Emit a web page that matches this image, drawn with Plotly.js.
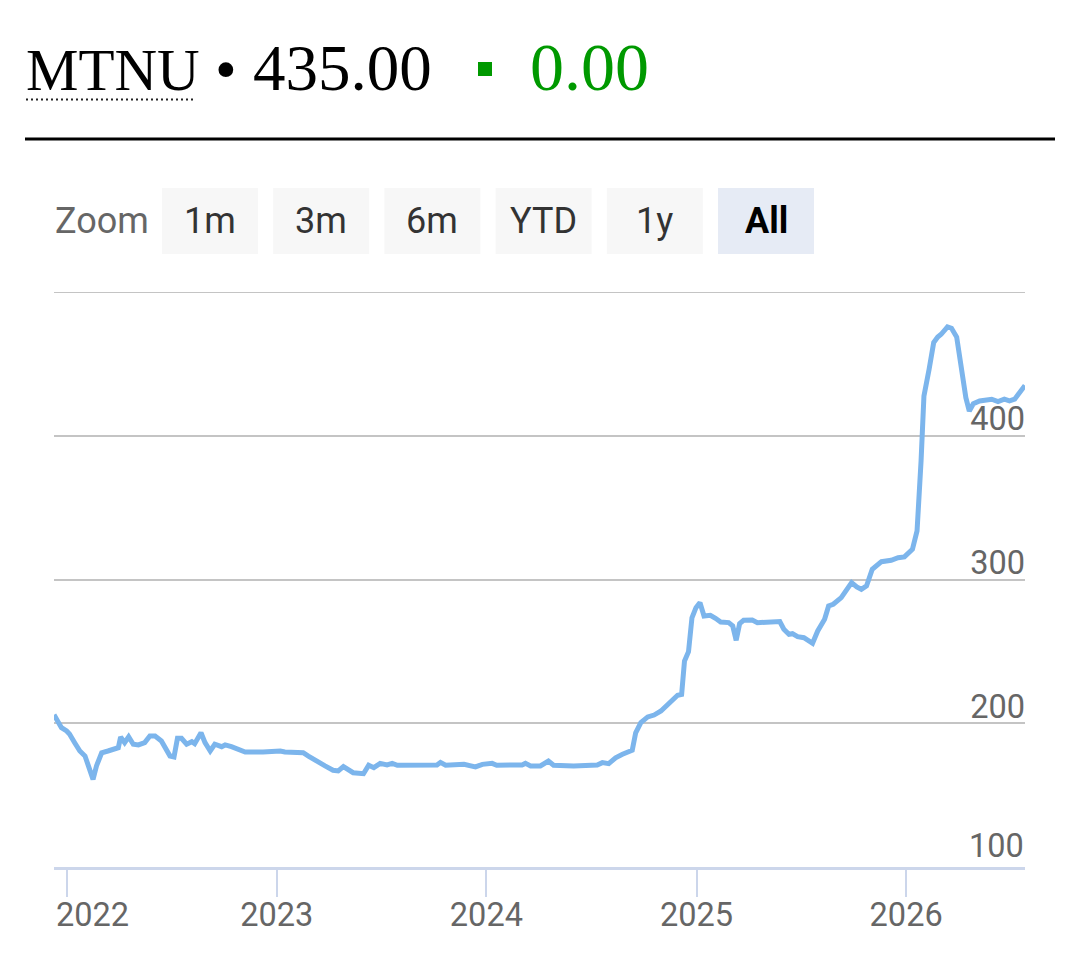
<!DOCTYPE html>
<html>
<head>
<meta charset="utf-8">
<script src="https://cdn.plot.ly/plotly-3.0.1.min.js"></script>
<style>
  html, body { margin: 0; padding: 0; background: #fff; }
  #chart { width: 1080px; height: 961px; }
</style>
</head>
<body>
<div id="chart"></div>
<script>
// ---- data ----
const ticker = 'MTNU';
const lastPrice = '435.00';
const priceChange = '0.00';
const zoomButtons = ['1m', '3m', '6m', 'YTD', '1y', 'All'];
const selectedButton = 'All';

const dates = [
  '2021-12-09','2021-12-22','2021-12-31','2022-01-05','2022-01-14','2022-01-23','2022-02-01','2022-02-08',
  '2022-02-15','2022-02-21','2022-03-02','2022-03-13','2022-03-22','2022-03-31','2022-04-04','2022-04-11',
  '2022-04-18','2022-04-26','2022-05-05','2022-05-16','2022-05-25','2022-06-03','2022-06-14','2022-06-23',
  '2022-06-29','2022-07-06','2022-07-12','2022-07-19','2022-07-28','2022-08-06','2022-08-11','2022-08-22',
  '2022-08-29','2022-09-07','2022-09-15','2022-09-27','2022-10-03','2022-10-14','2022-10-26','2022-11-07',
  '2022-12-08','2023-01-07','2023-01-15','2023-02-16','2023-02-25','2023-03-06','2023-03-14','2023-03-26',
  '2023-04-09','2023-04-18','2023-04-27','2023-05-09','2023-05-14','2023-06-01','2023-06-10','2023-06-19',
  '2023-06-30','2023-07-12','2023-07-21','2023-07-30','2023-10-07','2023-10-13','2023-10-22','2023-11-23',
  '2023-12-13','2023-12-25','2024-01-11','2024-01-19','2024-03-03','2024-03-09','2024-03-18','2024-04-04',
  '2024-04-18','2024-04-27','2024-06-01','2024-07-12','2024-07-21','2024-08-01','2024-08-13','2024-08-25',
  '2024-09-11','2024-09-17','2024-09-26','2024-10-08','2024-10-19','2024-10-31','2024-11-11','2024-11-20',
  '2024-11-29','2024-12-06','2024-12-11','2024-12-18','2024-12-24','2024-12-31','2025-01-07','2025-01-14',
  '2025-01-25','2025-02-03','2025-02-12','2025-02-26','2025-03-05','2025-03-11','2025-03-17','2025-03-24',
  '2025-04-08','2025-04-17','2025-05-16','2025-05-26','2025-06-02','2025-06-11','2025-06-17','2025-06-26',
  '2025-07-07','2025-07-22','2025-07-31','2025-08-12','2025-08-19','2025-08-27','2025-09-10','2025-09-19',
  '2025-09-28','2025-10-07','2025-10-15','2025-10-24','2025-11-03','2025-11-19','2025-12-06','2025-12-18',
  '2025-12-29','2026-01-12','2026-01-20','2026-01-27','2026-02-01','2026-02-10','2026-02-18','2026-02-25',
  '2026-03-03','2026-03-14','2026-03-21','2026-03-30','2026-04-06','2026-04-15','2026-04-21','2026-04-28',
  '2026-05-09','2026-05-30','2026-06-10','2026-06-21','2026-06-30','2026-07-09','2026-07-27'
];
const prices = [
  206.0,196.9,194.6,192.5,186.5,180.7,177.2,169.1,
  161.0,170.3,179.5,180.7,182.3,183.0,190.4,186.5,
  190.6,185.4,184.9,186.5,191.1,191.1,187.7,180.7,
  177.2,176.5,189.5,189.5,185.4,187.2,185.8,193.4,
  186.5,180.7,185.4,183.7,184.9,183.7,181.9,180.0,
  180.0,180.7,180.0,179.5,177.2,174.9,173.7,170.3,
  167.3,166.8,169.8,166.3,165.6,164.9,170.8,169.1,
  172.1,171.0,172.1,170.8,171.0,172.8,170.8,171.4,
  169.6,171.4,172.1,170.8,171.0,172.1,170.3,170.3,
  173.7,170.8,170.3,171.0,172.6,171.9,176.0,178.4,
  181.2,193.4,200.4,204.4,205.7,208.5,212.7,215.0,
  219.5,220.1,243.3,249.8,273.4,280.4,283.9,274.6,
  275.1,273.0,270.4,270.0,267.7,257.7,269.3,271.6,
  271.8,270.0,270.0,270.7,265.4,261.9,262.3,260.2,
  259.5,255.6,264.2,272.3,281.6,282.8,287.4,292.5,
  297.8,294.8,293.2,295.5,307.1,312.4,313.4,315.2,
  315.7,321.0,333.8,382.5,427.7,446.2,464.8,468.7,
  470.6,475.7,474.8,468.7,449.7,426.5,417.2,422.3,
  424.2,425.4,423.7,425.4,424.2,425.4,435.0
];
const yearTicks = ['2022-01-01','2023-01-01','2024-01-01','2025-01-01','2026-01-01'];
const yearLabels = ['2022','2023','2024','2025','2026'];
const yTickVals = [100, 200, 300, 400, 500];
const yTickText = ['100', '200', '300', '400', ''];

// ---- layout helpers (pixel -> paper) ----
const W = 1080, H = 961;
const M = { l: 54, r: 55, t: 292, b: 94 };
const PW = W - M.l - M.r, PH = H - M.t - M.b;
const px = x => (x - M.l) / PW;
const py = y => (H - M.b - y) / PH;
const baseline = 90;                       // title baseline (px)
const midFor = s => baseline - 0.3375 * s; // Liberation Serif box centre for a given size

const shapes = [];
const annotations = [];
const axisFont = { family: 'Roboto', size: 32.5, color: '#666666' };

// header
const tSize = 59, nSize = 65;
annotations.push({ xref: 'paper', yref: 'paper', x: px(24), y: py(midFor(tSize)), xanchor: 'left', yanchor: 'middle',
  text: ticker, showarrow: false, font: { family: 'Liberation Serif', size: tSize, color: '#000' } });
annotations.push({ xref: 'paper', yref: 'paper', x: px(226), y: py(midFor(62)), xanchor: 'center', yanchor: 'middle',
  text: '•', showarrow: false, font: { family: 'Liberation Serif', size: 62, color: '#000' } });
annotations.push({ xref: 'paper', yref: 'paper', x: px(251), y: py(midFor(nSize)), xanchor: 'left', yanchor: 'middle',
  text: lastPrice, showarrow: false, font: { family: 'Liberation Serif', size: nSize, color: '#000' } });
annotations.push({ xref: 'paper', yref: 'paper', x: px(528), y: py(midFor(nSize + 3)), xanchor: 'left', yanchor: 'middle',
  text: priceChange, showarrow: false, font: { family: 'Liberation Serif', size: nSize + 3, color: '#009900' } });
shapes.push({ type: 'rect', xref: 'paper', yref: 'paper', x0: px(478), x1: px(492), y0: py(76), y1: py(62),
  fillcolor: '#009900', line: { width: 0 } });
shapes.push({ type: 'line', xref: 'paper', yref: 'paper', x0: px(26), x1: px(195), y0: py(99.5), y1: py(99.5),
  line: { color: '#222', width: 2, dash: '2px,3px' } });
shapes.push({ type: 'line', xref: 'paper', yref: 'paper', x0: px(25), x1: px(1055), y0: py(139), y1: py(139),
  line: { color: '#000', width: 3 } });

// range selector
annotations.push({ xref: 'paper', yref: 'paper', x: px(53), y: py(221), xanchor: 'left', yanchor: 'middle',
  text: 'Zoom', showarrow: false, font: { family: 'Roboto', size: 36, color: '#666666' } });
zoomButtons.forEach((b, i) => {
  const x0 = 162 + i * 111.2, x1 = x0 + 96;
  const sel = b === selectedButton;
  shapes.push({ type: 'rect', xref: 'paper', yref: 'paper', x0: px(x0), x1: px(x1), y0: py(254), y1: py(188),
    fillcolor: sel ? '#e6ebf5' : '#f7f7f7', line: { width: 0 }, layer: 'below' });
  annotations.push({ xref: 'paper', yref: 'paper', x: px((x0 + x1) / 2), y: py(221), xanchor: 'center', yanchor: 'middle',
    text: sel ? '<b>' + b + '</b>' : b, showarrow: false,
    font: { family: 'Roboto', size: 36, color: sel ? '#000000' : '#333333' } });
});

// top grid line (range edge)
shapes.push({ type: 'line', xref: 'paper', yref: 'y', x0: 0, x1: 1, y0: yTickVals[yTickVals.length - 1], y1: yTickVals[yTickVals.length - 1],
  line: { color: '#c4c4c4', width: 2 }, layer: 'below' });

// first year label sits to the right of its tick (as in the original)
annotations.push({ xref: 'x', yref: 'paper', x: yearTicks[0], xshift: 25, y: py(915), xanchor: 'center', yanchor: 'middle',
  text: yearLabels[0], showarrow: false, font: axisFont });
// bottom y label (at the axis edge, drawn as an annotation on the y scale)
annotations.push({ xref: 'paper', yref: 'y', x: 1, xshift: 1, y: yTickVals[0], yshift: 21, xanchor: 'right', yanchor: 'middle',
  text: yTickText[0], showarrow: false, font: axisFont });

const trace = {
  type: 'scatter', mode: 'lines', x: dates, y: prices,
  line: { color: '#7cb5ec', width: 5 }, hoverinfo: 'x+y'
};

const layout = {
  width: W, height: H,
  margin: { l: M.l, r: M.r, t: M.t, b: M.b, pad: 0 },
  paper_bgcolor: '#ffffff', plot_bgcolor: '#ffffff',
  showlegend: false,
  xaxis: {
    type: 'date', range: [dates[0], dates[dates.length - 1]],
    tickmode: 'array', tickvals: yearTicks, ticktext: [''].concat(yearLabels.slice(1)),
    ticks: 'outside', ticklen: 27, tickwidth: 2, tickcolor: '#ccd6eb',
    ticklabelstandoff: -10,
    showline: true, linecolor: '#ccd6eb', linewidth: 3,
    showgrid: false, zeroline: false,
    tickfont: axisFont
  },
  yaxis: {
    range: [100, 500], side: 'right',
    tickmode: 'array', tickvals: yTickVals, ticktext: [''].concat(yTickText.slice(1)),
    ticklabelposition: 'inside top', ticks: '',
    ticklabelshift: 6, ticklabelstandoff: -3,
    showgrid: true, gridcolor: '#c4c4c4', gridwidth: 2,
    showline: false, zeroline: false,
    tickfont: axisFont
  },
  shapes: shapes,
  annotations: annotations
};

Plotly.newPlot('chart', [trace], layout, { displayModeBar: false, staticPlot: true });
</script>
</body>
</html>
